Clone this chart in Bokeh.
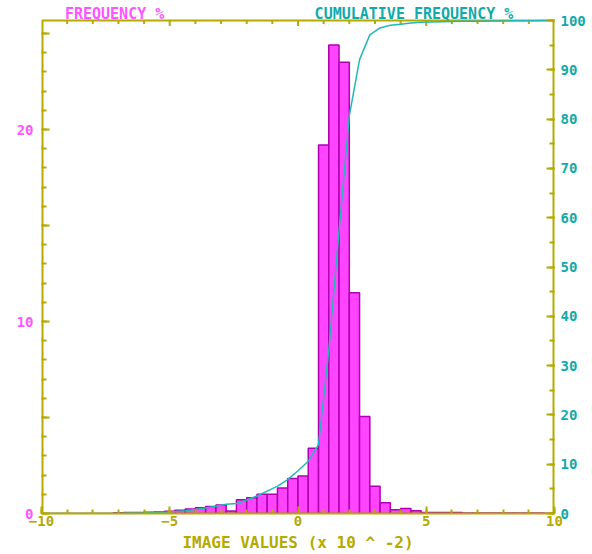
import numpy as np
from bokeh.plotting import figure
from bokeh.models import Range1d, LinearAxis, FixedTicker, ColumnDataSource
from bokeh.core.properties import value
from bokeh.embed import file_html
from bokeh.resources import INLINE

# ---- data ----
bin_start = -10.0
bin_width = 0.4
freq = [
    0.00, 0.00, 0.00, 0.00, 0.00, 0.00, 0.00,          # -10.0 .. -7.6
    0.04, 0.05, 0.05, 0.06, 0.08,                      # -7.2 .. -5.6
    0.12, 0.17, 0.24, 0.30, 0.36, 0.44,                # -5.2 .. -3.2
    0.13, 0.72, 0.82, 1.00, 1.00, 1.33, 1.82, 1.95, 3.40,  # -2.8 .. 0.4
    19.2, 24.4, 23.5, 11.5, 5.05,                      # 0.8 .. 2.4
    1.42, 0.56, 0.19, 0.26, 0.14,                      # 2.8 .. 4.4
    0.05, 0.05, 0.05, 0.05,                            # 4.8 .. 6.0
    0.02, 0.02, 0.02, 0.02, 0.02, 0.02, 0.02, 0.02, 0.01,  # 6.4 .. 9.6
]
x_major = [-10, -5, 0, 5, 10]
x_minor = list(range(-10, 11))
left_labelled = [0, 10, 20]
left_unlabelled = [5, 15, 25]
left_minor = list(range(0, 26))
right_major = [0, 10, 20, 30, 40, 50, 60, 70, 80, 90, 100]
right_minor = list(range(0, 101, 5))
title_left = "FREQUENCY %"
title_right = "CUMULATIVE FREQUENCY %"
x_label = "IMAGE VALUES (x 10 ^ -2)"

# ---- derived ----
freq = np.array(freq)
left_edges = bin_start + bin_width * np.arange(len(freq))
right_edges = left_edges + bin_width
cum = np.concatenate([[0.0], np.cumsum(freq) / freq.sum() * 100.0])
cum_x = np.concatenate([[bin_start], right_edges])

# ---- layout constants ----
X0, X1 = -10, 10
Y0, Y1 = 0, 25.68            # plot box (left scale)
C1 = 100                     # plot box top (right scale)
BOX_H = 493                  # plot box height, px
HEAD = 20                    # title strip above the box, px
FRAME_H = BOX_H + HEAD
PX = BOX_H / Y1              # px per left-scale unit
YTOP = Y1 * FRAME_H / BOX_H
CTOP = C1 * FRAME_H / BOX_H

OLIVE = "#b4aa00"
MAG = "#ff55ff"
TEAL = "#11aaaa"
FONT = "DejaVu Sans Mono"

p = figure(frame_width=513, frame_height=FRAME_H,
           x_range=Range1d(X0, X1), y_range=Range1d(Y0, YTOP),
           output_backend="svg", toolbar_location=None,
           x_axis_location=None, y_axis_location=None,
           min_border_left=41, min_border_right=38,
           min_border_top=0, min_border_bottom=41)
p.extra_y_ranges = {"cum": Range1d(0, CTOP)}
p.grid.visible = False
p.outline_line_color = None
p.background_fill_color = "white"
p.border_fill_color = "white"

def style(ax, major_in, minor_in):
    ax.axis_line_color = OLIVE
    ax.axis_line_width = 2
    ax.major_tick_line_color = OLIVE
    ax.minor_tick_line_color = OLIVE
    ax.major_tick_line_width = 2
    ax.minor_tick_line_width = 2
    ax.major_tick_out = 0
    ax.minor_tick_out = 0
    ax.major_tick_in = major_in
    ax.minor_tick_in = minor_in
    ax.major_label_text_font = FONT
    ax.major_label_text_font_style = "bold"
    ax.major_label_text_font_size = "14px"

bottom = LinearAxis(ticker=FixedTicker(ticks=x_major, minor_ticks=x_minor))
style(bottom, 7, 4)
bottom.major_label_text_color = OLIVE
bottom.major_label_standoff = 2
bottom.axis_label = x_label
bottom.axis_label_text_color = OLIVE
bottom.axis_label_text_font = FONT
bottom.axis_label_text_font_style = "bold"
bottom.axis_label_text_font_size = "16px"
bottom.axis_label_standoff = 4
p.add_layout(bottom, "below")

left = LinearAxis(ticker=FixedTicker(ticks=left_labelled, minor_ticks=left_minor))
style(left, 8, 5)
left.axis_line_color = None
left.major_label_text_color = MAG
left.major_label_standoff = 8
p.add_layout(left, "left")

right = LinearAxis(y_range_name="cum",
                   ticker=FixedTicker(ticks=right_major, minor_ticks=right_minor))
style(right, 8, 5)
right.axis_line_color = None
right.major_label_text_color = TEAL
right.major_label_standoff = 6
p.add_layout(right, "right")

# plot box: the two sides (half lies outside the clipped frame) and the top edge
p.segment(x0=[X0, X1], y0=[Y0, Y0], x1=[X0, X1], y1=[Y1, Y1],
          line_color=OLIVE, line_width=4)
p.segment(x0=[X0], y0=[Y1], x1=[X1], y1=[Y1], line_color=OLIVE, line_width=2)

# inward ticks along the top edge
top_major = [t for t in x_major if X0 < t < X1]
top_minor = [t for t in x_minor if t not in x_major]
p.segment(x0=top_minor, y0=[Y1] * len(top_minor), x1=top_minor,
          y1=[Y1 - 3.5 / PX] * len(top_minor), line_color=OLIVE, line_width=2)
p.segment(x0=top_major, y0=[Y1] * len(top_major), x1=top_major,
          y1=[Y1 - 5.5 / PX] * len(top_major), line_color=OLIVE, line_width=2)
# longer unlabelled ticks of the left scale
p.scatter([X0] * len(left_unlabelled), left_unlabelled, marker="dash", size=16,
          line_color=OLIVE, line_width=2)

src = ColumnDataSource(dict(left=left_edges, right=right_edges, top=freq,
                            bottom=np.zeros_like(freq)))
p.quad(left="left", right="right", top="top", bottom="bottom", source=src,
       fill_color="#ff44ff", line_color="#b000b0", line_width=1.5)

p.line(cum_x, cum, y_range_name="cum", line_color="#22b8b8", line_width=1.5)

# titles in the strip above the plot box
title_y = Y1 + 7 / PX
p.text(x=[-7.15], y=[title_y], text=[title_left], text_align="center",
       text_baseline="middle", text_color=MAG, text_font=value(FONT),
       text_font_style="bold", text_font_size="15px")
p.text(x=[4.52], y=[title_y], text=[title_right], text_align="center",
       text_baseline="middle", text_color=TEAL, text_font=value(FONT),
       text_font_style="bold", text_font_size="15px")

open("out.html", "w").write(file_html(p, INLINE))
